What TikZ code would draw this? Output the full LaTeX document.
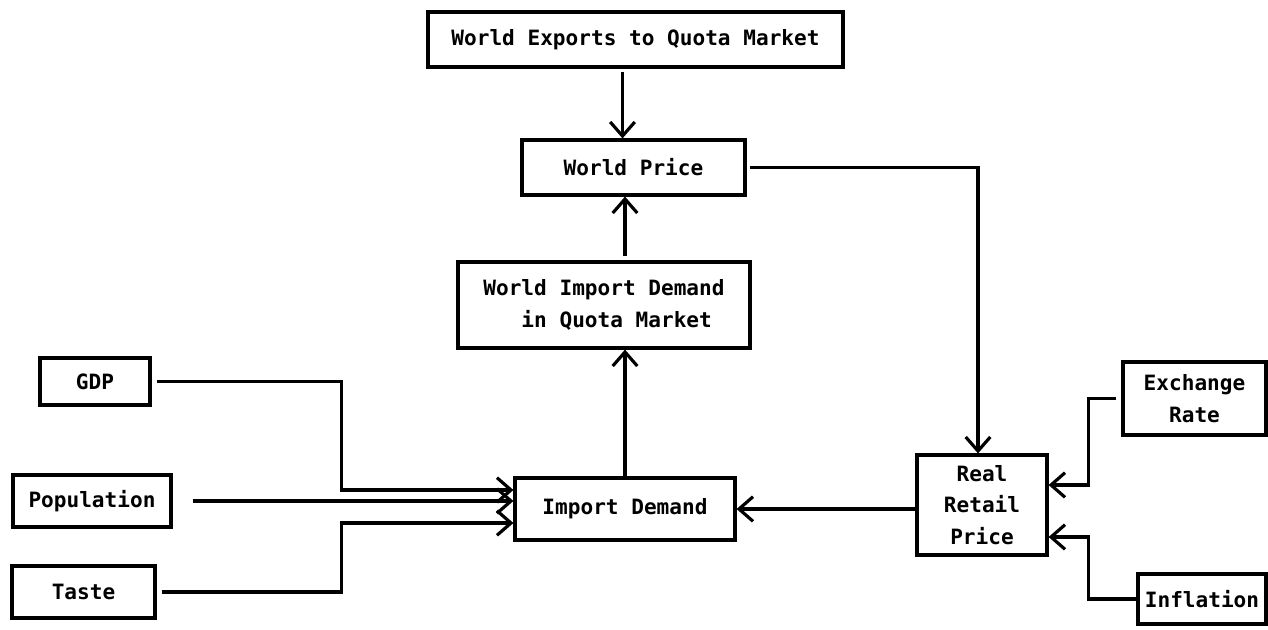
\documentclass[tikz,border=0pt]{standalone}
\usepackage{fontspec}
\setmonofont{DejaVu Sans Mono}
\usepackage{tikz}
\usetikzlibrary{arrows.meta,positioning,calc}

\tikzset{
  blk/.style={draw, line width=1.8pt, inner sep=0pt, align=center,
    font=\ttfamily\bfseries\fontsize{12}{18}\selectfont},
  arr/.style={line width=1.8pt, -{Straight Barb[length=8pt,width=14pt,line width=1.8pt]}}
}

\begin{document}
\begin{tikzpicture}[x=0.02cm, y=-0.02cm]
            \useasboundingbox (0,0) rectangle (1268,629);
            % top chain
            \node[blk, minimum width=415*0.02cm, minimum height=55*0.02cm] (exports) at (635.5,39.5) {World Exports to Quota Market};
            \node[blk, minimum width=223*0.02cm, minimum height=55*0.02cm] (wprice) at (633.5,167.5) {World Price};
            \node[blk, minimum width=292*0.02cm, minimum height=86*0.02cm, align=left] (wimport) at (604,305) {World Import Demand\\\phantom{Wor}in Quota Market};
            \node[blk, minimum width=220*0.02cm, minimum height=62*0.02cm] (import) at (625,509) {Import Demand};
            % left inputs
            \node[blk, minimum width=110*0.02cm, minimum height=47*0.02cm] (gdp) at (95,381.5) {GDP};
            \node[blk, minimum width=158*0.02cm, minimum height=52*0.02cm] (pop) at (92,501) {Population};
            \node[blk, minimum width=143*0.02cm, minimum height=52*0.02cm] (taste) at (83.5,592) {Taste};
            % right side
            \node[blk, minimum width=130*0.02cm, minimum height=100*0.02cm] (rrp) at (982,505) {Real\\Retail\\Price};
            \node[blk, minimum width=143*0.02cm, minimum height=73*0.02cm] (exch) at (1194.5,398.5) {Exchange\\Rate};
            \node[blk, minimum width=128*0.02cm, minimum height=50*0.02cm] (infl) at (1202,599) {Inflation};

            \draw[arr] ($(exports.south)+(-13,3)$) -- (wprice.north -| {$(exports.south)+(-13,0)$});
            \draw[arr] ($(wimport.north -| import)+(0,-4)$) -- (wprice.south -| import);
            \draw[arr] (import.north) -- (import.north |- wimport.south);
            \draw[arr] ($(wprice.east)+(3,0)$) -| ($(rrp.north)+(-4,0)$);
            \draw[arr] (rrp.west |- import) -- (import.east);
            \draw[arr] ($(gdp.east)+(5,0)$) -- ++(185,0) |- ($(import.west)+(0,-19)$);
            \draw[arr] ($(pop.east)+(20,0)$) -- (import.west |- pop.east);
            \draw[arr] ($(taste.east)+(5,0)$) -- ++(180,0) |- ($(import.west)+(0,14)$);
            \draw[arr] ($(exch.west)+(-5,0)$) -- ++(-28,0) |- ($(rrp.east)+(0,-20)$);
            \draw[arr] (infl.west) -- ++(-48,0) |- ($(rrp.east)+(0,32)$);
        \end{tikzpicture}
\end{document}
